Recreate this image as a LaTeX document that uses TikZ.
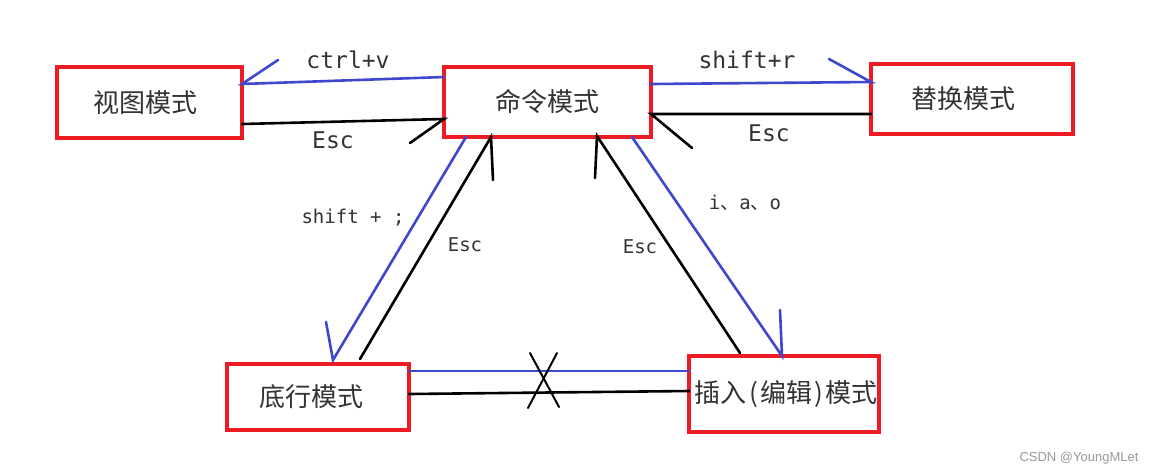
\documentclass[tikz,border=0pt]{standalone}
\usepackage{fontspec}
\usetikzlibrary{calc}
\newfontfamily\cjk{Noto Sans CJK SC}
\newfontfamily\mono{DejaVu Sans Mono}
\newfontfamily\wm{Liberation Sans}
\definecolor{pred}{HTML}{ED1C24}
\definecolor{pblue}{HTML}{3F48CC}
\definecolor{txt}{HTML}{333333}
\tikzset{
  mode/.style={draw=pred, line width=4pt, outer sep=0pt, inner sep=0pt, fill=white,
    text=txt, font=\cjk\fontsize{26}{30}\selectfont},
  bl/.style={draw=pblue, line width=2.6pt, line cap=round},
  bk/.style={draw=black, line width=2.6pt, line cap=round},
  lbig/.style={text=txt, font=\mono\fontsize{23}{27}\selectfont, inner sep=0pt},
  lsmall/.style={text=txt, font=\mono\fontsize{19}{23}\selectfont, inner sep=0pt},
}
\begin{document}
\begin{tikzpicture}[x=1pt,y=-1pt]
\useasboundingbox[fill=white] (0,0) rectangle (1158,475);
% nodes
\node[mode, minimum width=185pt, minimum height=71pt] (view) at (149.5,102.5) {\hspace*{-9pt}视图模式};
\node[mode, minimum width=207pt, minimum height=70pt] (cmd) at (547.5,102) {命令模式};
\node[mode, minimum width=202pt, minimum height=70pt] (rep) at (972,99) {\hspace*{-18pt}替换模式};
\node[mode, minimum width=182pt, minimum height=66pt] (bot) at (318,397) {\hspace*{-14pt}底行模式};
\node[mode, minimum width=190pt, minimum height=76pt] (ins) at (784,394) {\hspace*{4pt}插入\hspace{3pt}(\hspace{2pt}编辑\hspace{2pt})\hspace{3pt}模式};
% command <-> view
\draw[bl] ($(cmd.west)+(0,-25)$) -- ($(view.east)+(0,-18.5)$) coordinate (a1) -- ++(36,-24);
\draw[bk] ($(view.east)+(0,21.5)$) -- ($(cmd.west)+(0,17)$) coordinate (a2) -- ++(-34,24);
% command <-> replace
\draw[bl] ($(cmd.east)+(0,-18)$) -- ($(rep.west)+(0,-17)$) coordinate (a3) -- ++(-42,-23);
\draw[bk] ($(rep.west)+(0,15)$) -- ($(cmd.east)+(0,12)$) coordinate (a4) -- ++(41,34);
% command <-> bottom line
\draw[bl] ($(cmd.south)+(-81.5,0)$) -- ($(bot.north)+(15,-4)$) coordinate (a5) -- ++(-7,-38);
\draw[bk] ($(bot.north)+(42,-5)$) -- ($(cmd.south)+(-56.5,0)$) coordinate (a6) -- ++(2,43);
% command <-> insert
\draw[bl] ($(cmd.south)+(84.5,0)$) -- ($(ins.north)+(-2,0)$) coordinate (a7) -- ++(-2,-46);
\draw[bk] ($(ins.north)+(-44,-3)$) -- ($(cmd.south)+(49.5,-1)$) coordinate (a8) -- ++(-2,42);
% bottom <-> insert
\draw[bl] ($(bot.east)+(0,-26)$) -- ($(ins.west)+(0,-23)$);
\draw[bk] ($(bot.east)+(0,-3)$) -- ($(ins.west)+(0,-3)$);
\coordinate (xm) at (543,380);
\draw[bk, line width=2pt] ($(xm)+(-13,-27)$) -- ($(xm)+(16,27)$);
\draw[bk, line width=2pt] ($(xm)+(14,-27)$) -- ($(xm)+(-15,28)$);
% labels
\node[lbig] (l1) at (348,60) {ctrl+v};
\node[lbig] (l2) at (333,140) {Esc};
\node[lbig] (l3) at (747,60) {shift+r};
\node[lbig] (l4) at (769,133) {Esc};
\node[lsmall] (l5) at (353,218) {shift + ;};
\node[lsmall] (l6) at (465,245) {Esc};
\node[lsmall] (l7) at (745,203) {i{\cjk 、}a{\cjk 、}o};
\node[lsmall] (l8) at (640,247) {Esc};
\node[text=black!40, font=\wm\fontsize{13}{15}\selectfont, inner sep=0pt] (wm) at (1079,458) {CSDN @YoungMLet};
\end{tikzpicture}
\end{document}
